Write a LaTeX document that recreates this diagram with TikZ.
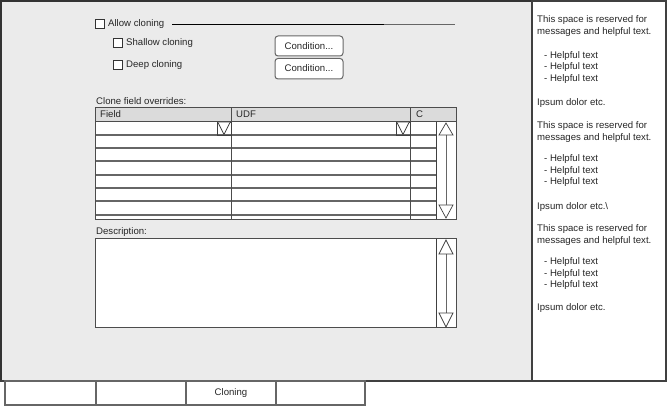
\documentclass[tikz,border=0pt]{standalone}
\usepackage{fontspec}
\setmainfont{Liberation Sans}
\begin{document}
\begin{tikzpicture}[x=1pt,y=-1pt,
  txt/.style={anchor=west,inner sep=0pt,font=\fontsize{9.6}{11}\selectfont,text=black!85},
  ctxt/.style={inner sep=0pt,font=\fontsize{9.6}{11}\selectfont,text=black!85},
  chk/.style={draw=black!80,line width=0.9pt,fill=white},
  btn/.style={draw=black!60,line width=1pt,fill=white,rounded corners=3pt},
  rowline/.style={draw=black!60,line width=1.5pt},
  frame/.style={draw=black!70,line width=1pt},
  arr/.style={draw=black!75,line width=0.7pt,fill=white}]
\useasboundingbox (0,0) rectangle (667,406);
% main panel
\fill[black!8] (0,0) rectangle (532,381);
\draw[black!80,line width=2pt] (1,381) -- (1,1) -- (532,1);
\draw[black!75,line width=1.5pt] (0,381) -- (532,381);
% right panel
\draw[fill=white,draw=black!75,line width=1.5pt] (532,1) rectangle (666,381);
% tabs
\foreach \a/\b in {5/96,96/186,186/276,276/365}
  \draw[fill=white,draw=black!60,line width=1.3pt] (\a,381) rectangle (\b,405);
\node[ctxt] (tabc) at (231,393) {Cloning};
% allow cloning
\draw[chk] (95.5,19.5) rectangle (104.5,28.5);
\node[txt] (allow) at (108,24) {Allow cloning};
\coordinate (lineend) at (455,25);
\draw[black,line width=1pt] (172,25) -- (384,25);
\draw[black!60,line width=1pt] (384,25) -- (lineend);
\draw[chk] (113.5,38.5) rectangle (122.5,47.5);
\node[txt] (shallow) at (126,43) {Shallow cloning};
\draw[chk] (113.5,60.5) rectangle (122.5,69.5);
\node[txt] (deep) at (126,65) {Deep cloning};
\draw[btn] (275,36) rectangle (343,56);
\node[ctxt] (cond1) at (309,46) {Condition...};
\draw[btn] (275,58.5) rectangle (343,79);
\node[ctxt] (cond2) at (309,68.5) {Condition...};
% table
\node[txt] (cfo) at (96,101) {Clone field overrides:};
\fill[white] (95,108) rectangle (456,220);
\fill[black!14] (95,108) rectangle (456,122);
\foreach \y in {135,148,161,175,188,201,215}
  \draw[rowline] (95,\y) -- (436,\y);
\draw[frame] (95,122) -- (456,122);
\draw[frame] (231,108) -- (231,220);
\draw[frame] (410,108) -- (410,220);
\draw[black!75,line width=1.3pt] (436.5,122) -- (436.5,220);
\draw[frame] (95,108) rectangle (456,220);
\node[txt] (hf) at (100,114.5) {Field};
\node[txt] (hu) at (236,114.5) {UDF};
\node[txt] (hc) at (416,114.5) {C};
% dropdowns
\draw[black!75,line width=0.8pt] (217,122) rectangle (231,135);
\draw[arr] (218,122.5) -- (224,134.5) -- (230,122.5);
\draw[black!75,line width=0.8pt] (396,122) rectangle (410,135);
\draw[arr] (397,122.5) -- (403,134.5) -- (409,122.5);
% scrollbar of table
\draw[black!60,line width=1pt] (446,135) -- (446,205);
\draw[arr] (439,135) -- (453,135) -- (446,123) -- cycle;
\draw[arr] (439,205) -- (453,205) -- (446,218) -- cycle;
% description
\node[txt] (desc) at (96,232) {Description:};
\draw[fill=white,frame] (95,239) rectangle (456,327);
\draw[black!75,line width=1.3pt] (436.5,239) -- (436.5,327);
\draw[black!60,line width=1pt] (446,254) -- (446,313);
\draw[arr] (439,254) -- (453,254) -- (446,240) -- cycle;
\draw[arr] (439,313) -- (453,313) -- (446,327) -- cycle;
% right panel text
\node[txt] (r1) at (537,20) {This space is reserved for};
\node[txt] (r2) at (537,32) {messages and helpful text.};
\node[txt] (r3) at (544,56) {- Helpful text};
\node[txt] (r4) at (544,67.5) {- Helpful text};
\node[txt] (r5) at (544,79) {- Helpful text};
\node[txt] (r6) at (537,103) {Ipsum dolor etc.};
\node[txt] (r7) at (537,126) {This space is reserved for};
\node[txt] (r8) at (537,138) {messages and helpful text.};
\node[txt] (r9) at (544,159.5) {- Helpful text};
\node[txt] (r10) at (544,171) {- Helpful text};
\node[txt] (r11) at (544,182.5) {- Helpful text};
\node[txt] (r12) at (537,207) {Ipsum dolor etc.\textbackslash};
\node[txt] (r13) at (537,229) {This space is reserved for};
\node[txt] (r14) at (537,241) {messages and helpful text.};
\node[txt] (r15) at (544,262.5) {- Helpful text};
\node[txt] (r16) at (544,274) {- Helpful text};
\node[txt] (r17) at (544,285.5) {- Helpful text};
\node[txt] (r18) at (537,308) {Ipsum dolor etc.};
\end{tikzpicture}
\end{document}
